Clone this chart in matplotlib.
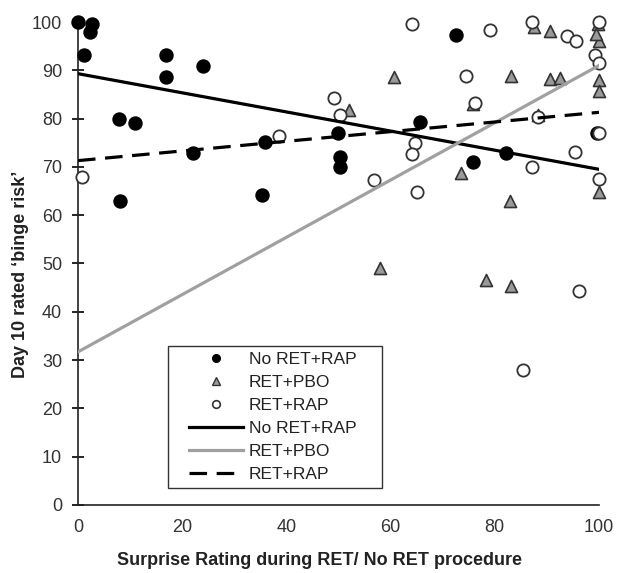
import numpy as np
import matplotlib.pyplot as plt
from matplotlib.lines import Line2D
from matplotlib.legend_handler import HandlerLine2D

# No RET+RAP (filled black)
noret_x = [0, 2.6, 2.3, 1.2, 16.9, 16.9, 23.9, 7.8, 10.9, 22.1, 8.0, 35.3, 35.9,
           50.0, 50.2, 50.2, 65.6, 72.6, 82.1, 75.8, 99.7]
noret_y = [100, 99.6, 98.0, 93.2, 93.2, 88.6, 90.9, 79.9, 79.0, 72.8, 63.0, 64.2, 75.2,
           77.0, 72.0, 70.0, 79.2, 97.3, 72.8, 71.1, 77.0]

# RET+PBO (grey triangles)
pbo_x = [52.1, 60.7, 58.0, 73.6, 75.9, 78.3, 83.2, 82.9, 83.2, 87.6, 88.2, 90.6,
         90.6, 92.6, 99.9, 100, 99.5, 100, 100, 100]
pbo_y = [81.8, 88.7, 49.0, 68.8, 83.0, 46.6, 45.3, 63.0, 88.8, 99.0, 80.7, 98.1,
         88.1, 88.5, 99.5, 96.0, 97.5, 88.0, 85.8, 64.8]

# RET+RAP (open circles)
rap_x = [0.8, 38.6, 49.1, 50.2, 56.8, 64.2, 64.7, 64.2, 65.0, 74.5, 76.2, 79.0, 87.1,
         88.2, 87.1, 93.8, 95.6, 95.4, 99.2, 100, 100, 100, 100, 96.2, 85.5]
rap_y = [68.0, 76.3, 84.2, 80.7, 67.3, 99.6, 74.9, 72.7, 64.9, 88.8, 83.2, 98.3, 99.9,
         80.4, 70.0, 97.1, 96.1, 73.1, 93.2, 91.5, 99.9, 77.1, 67.4, 44.3, 28.0]

# linear trend lines (intercept, slope)
trend_noret = (89.3, -0.198)
trend_pbo = (31.7, 0.593)
trend_rap = (71.3, 0.100)

labels = ["No RET+RAP", "RET+PBO", "RET+RAP"]

plt.rcParams['font.family'] = ['Liberation Sans', 'DejaVu Sans']

fig = plt.figure(figsize=(6.2, 5.73), dpi=100)
ax = fig.add_axes([0.1258, 0.1187, 0.8403, 0.8429])

ax.scatter(noret_x, noret_y, s=88, color='black', zorder=3, clip_on=False)
ax.scatter(pbo_x, pbo_y, s=75, marker='^', facecolor='#9a9a9a', edgecolor='#333333',
           linewidth=1.2, zorder=3, clip_on=False)
ax.scatter(rap_x, rap_y, s=78, facecolor='white', edgecolor='#333333',
           linewidth=1.3, zorder=3, clip_on=False)

dash = (5.5, 3)
xs = np.array([0, 100])
ax.plot(xs, trend_noret[0] + trend_noret[1] * xs, color='black', lw=2.3, zorder=4)
ax.plot(xs, trend_pbo[0] + trend_pbo[1] * xs, color='#a0a0a0', lw=2.3, zorder=4)
ax.plot(xs, trend_rap[0] + trend_rap[1] * xs, color='black', lw=2.3,
        dashes=dash, zorder=4)

ax.set_xlim(0, 100)
ax.set_ylim(0, 100)
ax.set_xticks(range(0, 101, 20))
ax.set_yticks(range(0, 101, 10))
for s in ['top', 'right']:
    ax.spines[s].set_visible(False)
for s in ['left', 'bottom']:
    ax.spines[s].set_linewidth(1.2)
    ax.spines[s].set_color('#222222')
ax.tick_params(axis='y', direction='inout', length=9, width=1.2, labelsize=13,
               pad=7, labelcolor='#333333')
ax.tick_params(axis='x', length=0, labelsize=13, pad=10, labelcolor='#333333')

ax.set_xlabel("Surprise Rating during RET/ No RET procedure", fontsize=13,
              fontweight='bold', color='#222222')
ax.set_ylabel("Day 10 rated \u2018binge risk\u2019", fontsize=13, fontweight='bold',
              color='#222222')
ax.xaxis.set_label_coords(0.464, -0.097)
ax.yaxis.set_label_coords(-0.094, 0.477)

handles = [
    Line2D([], [], ls='none', marker='o', ms=5.5, color='black'),
    Line2D([], [], ls='none', marker='^', ms=5.5, mfc='#9a9a9a', mec='#333333'),
    Line2D([], [], ls='none', marker='o', ms=5.5, mfc='white', mec='#333333', mew=1.2),
    Line2D([], [], color='black', lw=2.3),
    Line2D([], [], color='#a0a0a0', lw=2.3),
    Line2D([], [], color='black', lw=2.3, dashes=dash),
]
hmap = {h: HandlerLine2D(xpad=0.85) for h in handles}
leg = ax.legend(handles, labels * 2, handler_map=hmap, loc='upper left',
                bbox_to_anchor=(0.1727, 0.0, 0.411, 0.329), mode='expand',
                borderaxespad=0, fontsize=12.5, frameon=True, fancybox=False,
                edgecolor='black', borderpad=0.35, labelspacing=0.45,
                handlelength=3.96, handletextpad=0.35)
leg.get_frame().set_linewidth(1.0)
for t in leg.get_texts():
    t.set_color('#222222')

fig.savefig("out.png", dpi=100)
